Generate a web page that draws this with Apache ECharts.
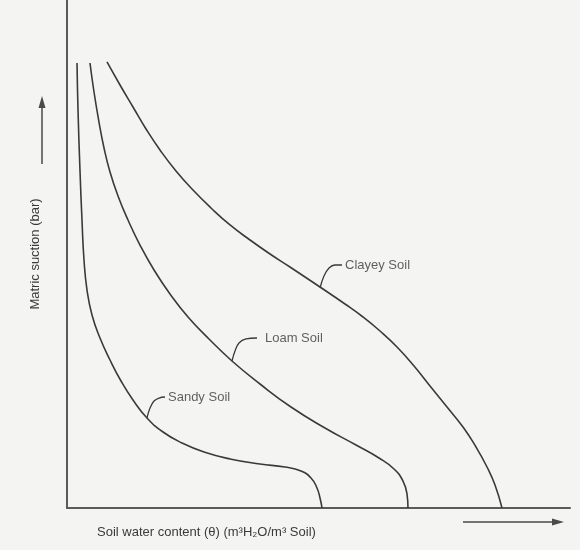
<!DOCTYPE html>
<html>
<head>
<meta charset="utf-8">
<script src="https://cdn.jsdelivr.net/npm/echarts@6/dist/echarts.min.js"></script>
<style>
html,body{margin:0;padding:0;background:#f4f4f2;}
#main{width:580px;height:550px;}
</style>
</head>
<body>
<div id="main"></div>
<script>
// Curves, in arbitrary units (x: water content 0-100, y: suction 0-100)
var sandyX = [1.99, 2.19, 2.58, 2.98, 3.38, 3.98, 4.97, 6.56, 8.55, 10.74, 13.12, 15.90, 19.09, 22.86, 27.24, 32.41, 38.37, 43.34, 46.52, 48.51, 49.70, 50.30, 50.70];
var sandyY = [87.60, 78.35, 66.54, 56.69, 48.82, 42.91, 37.99, 33.46, 29.13, 25.00, 21.26, 17.72, 14.96, 12.80, 11.02, 9.65, 8.66, 8.07, 7.28, 5.91, 3.94, 1.97, 0];
var loamX = [4.57, 5.37, 6.36, 7.36, 8.55, 10.14, 12.13, 14.51, 17.30, 20.48, 24.06, 28.23, 32.80, 38.37, 44.53, 51.29, 57.46, 62.03, 65.01, 66.80, 67.59, 67.79];
var loamY = [87.60, 81.89, 75.98, 70.87, 66.14, 61.42, 56.69, 51.77, 46.85, 42.13, 37.60, 33.27, 28.94, 24.41, 19.88, 15.75, 12.40, 9.84, 7.68, 5.31, 2.76, 0];
var clayX = [7.95, 10.54, 13.12, 15.71, 18.49, 21.67, 25.05, 28.63, 32.41, 36.38, 40.36, 44.33, 50.30, 55.27, 58.85, 62.23, 65.61, 68.99, 72.17, 75.55, 78.73, 81.31, 83.50, 85.09, 86.48];
var clayY = [87.80, 83.27, 78.94, 74.61, 70.47, 66.34, 62.60, 59.06, 55.71, 52.76, 50.00, 47.44, 43.50, 40.16, 37.60, 34.84, 31.69, 27.95, 24.02, 19.88, 15.94, 12.01, 8.07, 4.53, 0];

// Annotation labels and their leader lines (data units)
var labelNames = ['Clayey Soil', 'Loam Soil', 'Sandy Soil'];
var labelX = [55.27, 39.36, 20.08];
var labelY = [47.83, 33.46, 21.85];
var clayLeaderX = [50.30, 51.09, 52.09, 53.28, 54.67];
var clayLeaderY = [43.31, 45.67, 47.24, 47.83, 47.83];
var loamLeaderX = [32.80, 33.40, 34.19, 35.59, 37.77];
var loamLeaderY = [28.94, 30.91, 32.48, 33.27, 33.46];
var sandyLeaderX = [15.90, 16.50, 17.30, 18.29, 19.48];
var sandyLeaderY = [17.72, 19.69, 21.06, 21.65, 21.85];

var yTitle = 'Matric suction (bar)';
var xTitle = 'Soil water content (\u03b8) (m\u00b3H\u2082O/m\u00b3 Soil)';

function pairs(xs, ys){ return xs.map(function(x,i){return [x, ys[i]];}); }

var curveStyle = {color:'#3a3a3a', width:1.6};
var leaderStyle = {color:'#3a3a3a', width:1.3};
function curve(name, xs, ys){
  return {type:'line', name:name, data:pairs(xs,ys), smooth:0.5, showSymbol:false, symbol:'none',
          lineStyle:curveStyle, silent:true, z:3};
}
function leader(xs, ys){
  return {type:'line', data:pairs(xs,ys), smooth:0.4, showSymbol:false, symbol:'none',
          lineStyle:leaderStyle, silent:true, z:3};
}

var chart = echarts.init(document.getElementById('main'));
chart.setOption({
  backgroundColor:'#f4f4f2',
  animation:false,
  grid:{left:67, right:10, top:0, bottom:42},
  xAxis:{type:'value', min:0, max:100,
    axisLine:{show:true, lineStyle:{color:'#5a5a5a', width:2}},
    axisTick:{show:false}, axisLabel:{show:false}, splitLine:{show:false}},
  yAxis:{type:'value', min:0, max:100,
    name:yTitle, nameLocation:'middle', nameGap:25,
    nameTextStyle:{fontFamily:'Liberation Sans', fontSize:13, color:'#3a3a3a'},
    axisLine:{show:true, lineStyle:{color:'#5a5a5a', width:2}},
    axisTick:{show:false}, axisLabel:{show:false}, splitLine:{show:false}},
  series:[
    curve('Sandy Soil', sandyX, sandyY),
    curve('Loam Soil', loamX, loamY),
    curve('Clayey Soil', clayX, clayY),
    leader(clayLeaderX, clayLeaderY),
    leader(loamLeaderX, loamLeaderY),
    leader(sandyLeaderX, sandyLeaderY),
    {type:'scatter', symbolSize:0, silent:true,
     data:labelNames.map(function(n,i){return {name:n, value:[labelX[i], labelY[i]]};}),
     label:{show:true, position:'right', distance:0, formatter:'{b}',
            fontFamily:'Liberation Sans', fontSize:13, color:'#3a3a3a'}}
  ],
  graphic:[
    {type:'text', left:97, top:526,
     style:{text:xTitle, font:'13px "Liberation Sans"', fill:'#3a3a3a'}},
    {type:'line', shape:{x1:42, y1:164, x2:42, y2:104}, style:{stroke:'#4a4a4a', lineWidth:1.5}},
    {type:'polygon', shape:{points:[[42,96],[38.5,108],[45.5,108]]}, style:{fill:'#4a4a4a'}},
    {type:'line', shape:{x1:463, y1:522, x2:556, y2:522}, style:{stroke:'#4a4a4a', lineWidth:1.5}},
    {type:'polygon', shape:{points:[[564,522],[552,518.5],[552,525.5]]}, style:{fill:'#4a4a4a'}}
  ]
});
</script>
</body>
</html>
